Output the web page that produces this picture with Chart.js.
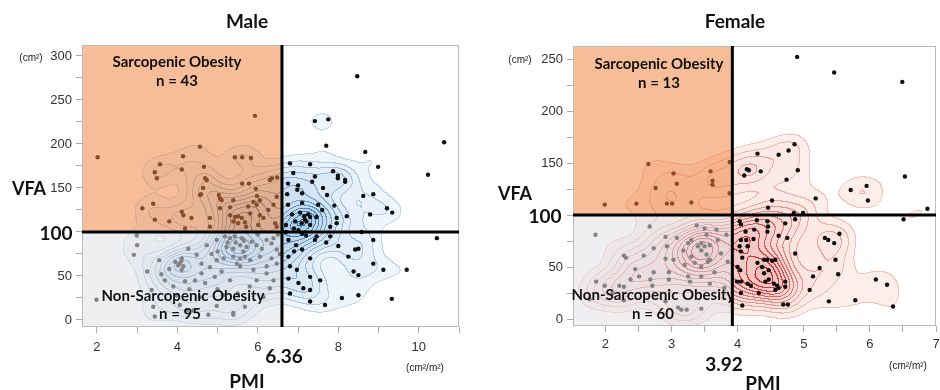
<!DOCTYPE html>
<html>
<head>
<script src="https://cdn.jsdelivr.net/npm/chart.js"></script>
<style>
  body { margin: 0; width: 940px; height: 390px; position: relative; background: #fff; overflow: hidden; }
  canvas { position: absolute; top: 0; }
  .t { position: absolute; transform: translate(-50%, -50%); white-space: nowrap; font-family: Lato, "Liberation Sans", sans-serif; font-weight: bold; color: #111; }
  .u { position: absolute; transform: translate(-50%, -50%); white-space: nowrap; font-family: "Liberation Sans", Arial, sans-serif; font-size: 10px; color: #222; }
</style>
</head>
<body>
<canvas id="male" width="470" height="390" style="left:0"></canvas>
<canvas id="female" width="470" height="390" style="left:470px"></canvas>

<div class="t" style="left:247px;top:20px;font-size:19px">Male</div>
<div class="u" style="left:31px;top:57px">(cm²)</div>
<div class="t" style="left:29px;top:188px;font-size:18px">VFA</div>
<div class="t" style="left:56px;top:232px;font-size:19px">100</div>
<div class="t" style="left:284px;top:355px;font-size:19px">6.36</div>
<div class="t" style="left:247px;top:380px;font-size:19px">PMI</div>
<div class="u" style="left:425px;top:367px">(cm²/m²)</div>
<div class="t" style="left:177px;top:61px;font-size:15px">Sarcopenic Obesity</div>
<div class="t" style="left:177px;top:80px;font-size:15px">n = 43</div>
<div class="t" style="left:183px;top:295px;font-size:15px">Non-Sarcopenic Obesity</div>
<div class="t" style="left:180px;top:313px;font-size:15px">n = 95</div>

<div class="t" style="left:735px;top:20px;font-size:19px">Female</div>
<div class="u" style="left:520px;top:59px">(cm²)</div>
<div class="t" style="left:515px;top:193px;font-size:18px">VFA</div>
<div class="t" style="left:545px;top:215px;font-size:19px">100</div>
<div class="t" style="left:724px;top:363px;font-size:19px">3.92</div>
<div class="t" style="left:763px;top:382px;font-size:19px">PMI</div>
<div class="u" style="left:908px;top:365px">(cm²/m²)</div>
<div class="t" style="left:659px;top:63px;font-size:15px">Sarcopenic Obesity</div>
<div class="t" style="left:659px;top:82px;font-size:15px">n = 13</div>
<div class="t" style="left:653px;top:294px;font-size:15px">Non-Sarcopenic Obesity</div>
<div class="t" style="left:653px;top:313px;font-size:15px">n = 60</div>

<script>
// cut-offs
const vfaCut = 100;
const maleCut = 6.6;     // where the line sits on the printed PMI axis (labelled 6.36)
const femaleCut = 3.92;

// axis ticks (the 100 tick label is replaced by the bold cut-off label)
const maleXTicks = [2, 3, 4, 5, 6, 7, 8, 9, 10, 11];
const maleXLabels = ['2', '', '4', '', '6', '', '8', '', '10', ''];
const maleYTicks = [0, 25, 50, 75, 100, 125, 150, 175, 200, 225, 250, 275, 300];
const maleYLabels = ['0', '', '50', '', '', '', '150', '', '200', '', '250', '', '300'];
const femaleXTicks = [2, 2.5, 3, 3.5, 4, 4.5, 5, 5.5, 6, 6.5, 7];
const femaleXLabels = ['2', '', '3', '', '4', '', '5', '', '6', '', '7'];
const femaleYTicks = [0, 25, 50, 75, 100, 125, 150, 175, 200, 225, 250];
const femaleYLabels = ['0', '', '50', '', '', '', '150', '', '200', '', '250'];

// male points [PMI, VFA]
const maleSarco = [[2.02,185],[4.56,197],[4.14,186],[3.57,177],[3.44,168],[3.49,161],[4.11,171],[4.66,174],[4.69,161],[4.73,159],[4.64,150],[4.59,143],[5.03,142],[5.93,232],[5.43,185],[5.61,185],[5.83,184],[5.61,155],[5.78,155],[6.30,159],[6.35,161],[6.48,162],[5.95,149],[5.98,141],[3.40,132],[3.13,127],[3.44,114],[3.80,112],[4.19,104],[4.11,123],[4.15,119],[4.35,116],[4.81,116],[5.06,138],[5.10,136],[5.39,136],[5.89,134],[6.05,136],[6.47,140],[6.39,131],[6.26,125],[5.06,127],[5.31,119],[5.43,117],[5.51,118],[5.60,116],[5.39,112],[5.51,110],[5.68,111],[5.71,106],[4.81,106],[5.81,121],[6.05,119],[6.14,116],[6.43,110],[6.47,106],[6.01,108],[5.76,129],[5.97,131],[5.31,128],[4.56,142]];
const maleNonSarco = [[2.99,96],[3.00,85],[2.92,74],[3.55,68],[4.11,70],[4.06,64],[4.15,61],[4.11,57],[4.27,81],[4.48,74],[4.73,85],[4.98,91],[5.18,95],[5.31,93],[5.43,95],[5.60,93],[5.22,83],[5.39,81],[5.56,85],[5.72,83],[5.39,72],[5.56,70],[5.68,72],[5.85,89],[5.97,85],[6.22,91],[6.34,87],[4.98,68],[4.81,60],[4.60,53],[5.10,55],[5.89,57],[6.22,61],[6.47,64],[5.56,61],[3.69,45],[3.90,38],[4.19,44],[4.44,45],[4.69,42],[4.93,49],[5.31,45],[5.48,64],[3.40,15],[3.44,4],[4.06,17],[4.40,11],[4.77,6],[4.98,16],[5.39,6],[1.99,23],[3.36,34],[3.98,28],[4.56,26],[4.23,11],[5.14,28],[5.64,78],[6.39,93],[6.47,80],[6.34,70],[6.10,81],[6.22,53],[6.39,45],[5.81,68],[5.97,45],[6.30,36],[5.39,8],[5.68,15],[6.14,26],[3.95,66],[4.02,62],[4.10,67],[3.80,58],[3.60,52],[4.30,35],[5.00,35],[5.50,30],[5.80,38],[6.00,97],[5.00,78],[4.60,64],[5.25,88],[5.45,88],[5.65,90],[6.50,97],[6.55,75],[3.25,55],[4.85,75],[5.15,70],[6.05,72]];
const maleOther = [[8.47,277],[7.42,226],[7.75,228],[7.70,198],[8.67,191],[8.99,174],[10.63,202],[10.23,165],[6.80,178],[7.30,177],[6.88,167],[7.42,163],[7.87,169],[7.99,164],[7.99,161],[8.17,159],[7.62,150],[7.00,153],[6.98,148],[7.10,144],[6.75,155],[6.73,143],[7.72,142],[8.62,141],[8.87,143],[7.35,157],[8.17,157],[7.50,131],[7.10,133],[6.75,131],[8.79,120],[9.21,127],[9.34,122],[7.46,117],[7.96,116],[8.21,118],[7.96,110],[7.80,106],[8.58,100],[8.87,91],[8.50,81],[8.42,80],[7.80,95],[6.76,91],[7.46,95],[7.30,108],[7.09,110],[7.17,114],[7.21,112],[6.93,112],[7.01,102],[7.42,91],[6.76,72],[6.80,61],[6.76,47],[6.97,57],[7.30,49],[7.01,42],[7.13,36],[7.30,34],[6.80,30],[7.55,45],[7.67,17],[7.30,21],[8.09,25],[8.50,28],[8.38,55],[8.50,51],[9.12,57],[9.70,57],[9.33,24],[8.87,64],[8.25,72],[10.45,93],[7.15,118],[7.25,120],[7.30,117],[7.05,122],[6.85,120],[6.90,104],[7.10,98],[7.20,96],[6.70,108],[6.70,100],[6.95,85],[7.60,125],[7.90,130],[7.70,88],[8.00,84],[7.10,80],[7.30,70],[6.90,78]];

// female points [PMI, VFA]
const femaleSarco = [[2.65,149],[3.03,140],[3.08,130],[2.76,126],[3.59,142],[3.62,133],[3.62,129],[1.99,110],[2.47,111],[2.93,111],[3.01,111],[3.30,112],[3.88,151],[3.88,121]];
const femaleNonSarco = [[1.85,81],[2.67,89],[2.28,61],[2.31,59],[2.58,61],[2.73,68],[2.93,70],[2.91,79],[3.08,78],[3.18,66],[3.25,73],[3.30,76],[3.40,70],[3.45,66],[3.50,70],[3.53,62],[3.30,60],[3.35,54],[3.58,57],[3.45,50],[3.20,52],[3.03,57],[2.96,45],[2.73,45],[2.68,38],[2.51,41],[2.38,38],[2.28,31],[2.21,32],[1.86,36],[1.99,32],[3.70,76],[3.75,63],[3.83,81],[3.68,86],[3.50,87],[3.38,90],[1.76,19],[2.11,25],[2.28,18],[2.71,32],[2.96,38],[3.10,11],[3.15,9],[3.23,9],[2.91,17],[3.45,10],[2.91,58],[3.55,55],[3.25,41],[3.28,36],[3.45,41],[3.58,34],[3.65,45],[3.58,71],[3.45,73],[3.53,81],[2.45,48],[3.80,30],[3.85,55]];
const femaleOther = [[4.90,252],[5.46,237],[6.49,228],[6.53,137],[4.86,168],[4.30,159],[4.62,158],[4.77,162],[4.14,144],[4.17,143],[4.10,138],[4.35,142],[4.91,143],[4.74,134],[5.71,124],[5.95,128],[5.97,114],[5.18,116],[4.46,107],[4.52,114],[4.85,102],[4.99,102],[6.87,106],[6.51,96],[4.03,94],[4.05,91],[4.29,95],[4.45,94],[4.46,89],[4.72,92],[4.87,96],[4.25,86],[4.62,80],[4.75,78],[4.05,76],[4.13,76],[4.15,70],[4.03,70],[4.05,65],[4.87,63],[5.32,78],[5.37,76],[5.46,73],[5.54,82],[5.48,57],[5.24,49],[5.14,41],[5.52,43],[5.09,28],[5.38,17],[5.78,18],[6.09,38],[6.26,33],[6.35,12],[4.40,57],[4.45,57],[4.52,56],[4.57,57],[4.37,50],[4.47,47],[3.99,36],[4.05,36],[4.15,34],[4.20,32],[4.42,36],[4.47,38],[4.55,34],[4.60,32],[4.62,30],[4.72,36],[4.72,31],[4.57,28],[4.32,25],[4.05,25],[4.07,13],[4.69,14],[4.76,14],[4.00,50],[4.04,47],[4.07,59],[4.30,54],[4.40,44],[4.12,84],[4.24,77],[4.45,84]];

function mix(a, b, t) {
  return [0, 1, 2].map(i => Math.round(a[i] + (b[i] - a[i]) * t));
}

// kernel density of the points, drawn as banded fills with contour edges
function densityImage(chart, pts, d) {
  const { chartArea: a, scales: { x, y } } = chart;
  const w = Math.round(a.right - a.left), h = Math.round(a.bottom - a.top);
  const g = 3, gw = Math.ceil(w / g) + 2, gh = Math.ceil(h / g) + 2;
  const grid = new Float32Array(gw * gh);
  let max = 0;
  for (let j = 0; j < gh; j++) {
    const vy = y.getValueForPixel(a.top + j * g);
    for (let i = 0; i < gw; i++) {
      const vx = x.getValueForPixel(a.left + i * g);
      let s = 0;
      for (const p of pts) {
        const dx = (vx - p[0]) / d.bw[0], dy = (vy - p[1]) / d.bw[1];
        s += Math.exp(-0.5 * (dx * dx + dy * dy));
      }
      grid[j * gw + i] = s;
      if (s > max) max = s;
    }
  }
  const n = d.levels, lev = new Uint8Array(w * h);
  for (let j = 0; j < h; j++) {
    const fy = j / g, j0 = Math.floor(fy), ty = fy - j0;
    for (let i = 0; i < w; i++) {
      const fx = i / g, i0 = Math.floor(fx), tx = fx - i0, k = j0 * gw + i0;
      const v = ((grid[k] * (1 - tx) + grid[k + 1] * tx) * (1 - ty) +
                 (grid[k + gw] * (1 - tx) + grid[k + gw + 1] * tx) * ty) / max;
      lev[j * w + i] = v < d.lo ? 0 : Math.min(n, 1 + Math.floor((v - d.lo) / (1 - d.lo) * n));
    }
  }
  const off = document.createElement('canvas');
  off.width = w; off.height = h;
  const octx = off.getContext('2d');
  const img = octx.createImageData(w, h);
  for (let j = 0; j < h; j++) {
    for (let i = 0; i < w; i++) {
      const p = j * w + i, L = lev[p];
      const r = i < w - 1 ? lev[p + 1] : L, b = j < h - 1 ? lev[p + w] : L;
      let c = null;
      const top = Math.max(L, r, b);
      if (top > 0 && (r !== L || b !== L)) c = mix(d.line0, d.line1, (top - 1) / (n - 1));
      else if (L > 0) c = mix(d.fill0, d.fill1, (L - 1) / (n - 1));
      if (c) {
        img.data[p * 4] = c[0]; img.data[p * 4 + 1] = c[1]; img.data[p * 4 + 2] = c[2]; img.data[p * 4 + 3] = 255;
      }
    }
  }
  octx.putImageData(img, 0, 0);
  return off;
}

function makeChart(id, c) {
  const pts = [].concat(c.sarco, c.nonSarco, c.other);
  const panel = {
    id: 'panel',
    beforeDatasetsDraw(chart) {
      const a = chart.chartArea;
      if (!chart.$dens) chart.$dens = densityImage(chart, pts, c.density);
      chart.ctx.drawImage(chart.$dens, Math.round(a.left), Math.round(a.top));
    },
    afterDatasetsDraw(chart) {
      const { ctx, chartArea: a, scales: { x, y } } = chart;
      const cx = x.getPixelForValue(c.cut), cy = y.getPixelForValue(vfaCut);
      ctx.save();
      ctx.fillStyle = 'rgba(240,130,60,0.53)';
      ctx.fillRect(a.left, a.top, cx - a.left, cy - a.top);
      ctx.fillStyle = 'rgba(226,226,232,0.55)';
      ctx.fillRect(a.left, cy, cx - a.left, a.bottom - cy);
      ctx.strokeStyle = '#bbb';
      ctx.lineWidth = 1;
      ctx.strokeRect(a.left + 0.5, a.top + 0.5, a.right - a.left - 1, a.bottom - a.top - 1);
      ctx.strokeStyle = '#000';
      ctx.lineWidth = 3;
      ctx.beginPath();
      ctx.moveTo(a.left, cy); ctx.lineTo(a.right, cy);
      ctx.moveTo(cx, a.top); ctx.lineTo(cx, a.bottom);
      ctx.stroke();
      ctx.restore();
    }
  };
  const tickFont = { family: '"Liberation Sans", Arial, sans-serif', size: 13 };
  return new Chart(document.getElementById(id), {
    type: 'scatter',
    data: {
      datasets: [{
        data: pts.map(p => ({ x: p[0], y: p[1] })),
        backgroundColor: '#111',
        borderWidth: 0,
        pointRadius: 2.2
      }]
    },
    options: {
      responsive: false,
      animation: false,
      events: [],
      layout: { padding: c.pad },
      plugins: { legend: { display: false }, tooltip: { enabled: false } },
      scales: {
        x: {
          type: 'linear', min: c.xMin, max: c.xMax,
          afterBuildTicks: s => { s.ticks = c.xTicks.map(v => ({ value: v })); },
          afterFit: s => { s.height = 30; s.paddingLeft = 0; s.paddingRight = 0; },
          ticks: { callback: (v, i) => c.xLabels[i], autoSkip: false, maxRotation: 0, font: tickFont, color: '#333', padding: c.xPad },
          grid: { drawOnChartArea: false, tickLength: 6, color: '#aaa' },
          border: { display: false }
        },
        y: {
          type: 'linear', min: c.yMin, max: c.yMax,
          afterBuildTicks: s => { s.ticks = c.yTicks.map(v => ({ value: v })); },
          afterFit: s => { s.width = c.yWidth; s.paddingTop = 0; s.paddingBottom = 0; },
          ticks: { callback: (v, i) => c.yLabels[i], autoSkip: false, font: tickFont, color: '#333', padding: 4 },
          grid: { drawOnChartArea: false, tickLength: 6, color: '#aaa' },
          border: { display: false }
        }
      }
    },
    plugins: [panel]
  });
}

makeChart('male', {
  sarco: maleSarco, nonSarco: maleNonSarco, other: maleOther, cut: maleCut,
  xMin: 1.63, xMax: 11.0, yMin: -8, yMax: 312.5,
  xTicks: maleXTicks, xLabels: maleXLabels, yTicks: maleYTicks, yLabels: maleYLabels,
  pad: { top: 45, right: 11, bottom: 33, left: 0 }, yWidth: 82, xPad: 7,
  density: { bw: [0.33, 12], levels: 12, lo: 0.1,
    fill0: [238, 245, 251], fill1: [170, 202, 230], line0: [190, 215, 236], line1: [45, 110, 170] }
});

makeChart('female', {
  sarco: femaleSarco, nonSarco: femaleNonSarco, other: femaleOther, cut: femaleCut,
  xMin: 1.51, xMax: 7.0, yMin: -6.7, yMax: 262.5,
  xTicks: femaleXTicks, xLabels: femaleXLabels, yTicks: femaleYTicks, yLabels: femaleYLabels,
  pad: { top: 46, right: 0, bottom: 34, left: 0 }, yWidth: 103, xPad: 5,
  density: { bw: [0.23, 12], levels: 12, lo: 0.1,
    fill0: [252, 238, 234], fill1: [238, 190, 188], line0: [246, 195, 180], line1: [205, 25, 25] }
});
</script>
</body>
</html>
